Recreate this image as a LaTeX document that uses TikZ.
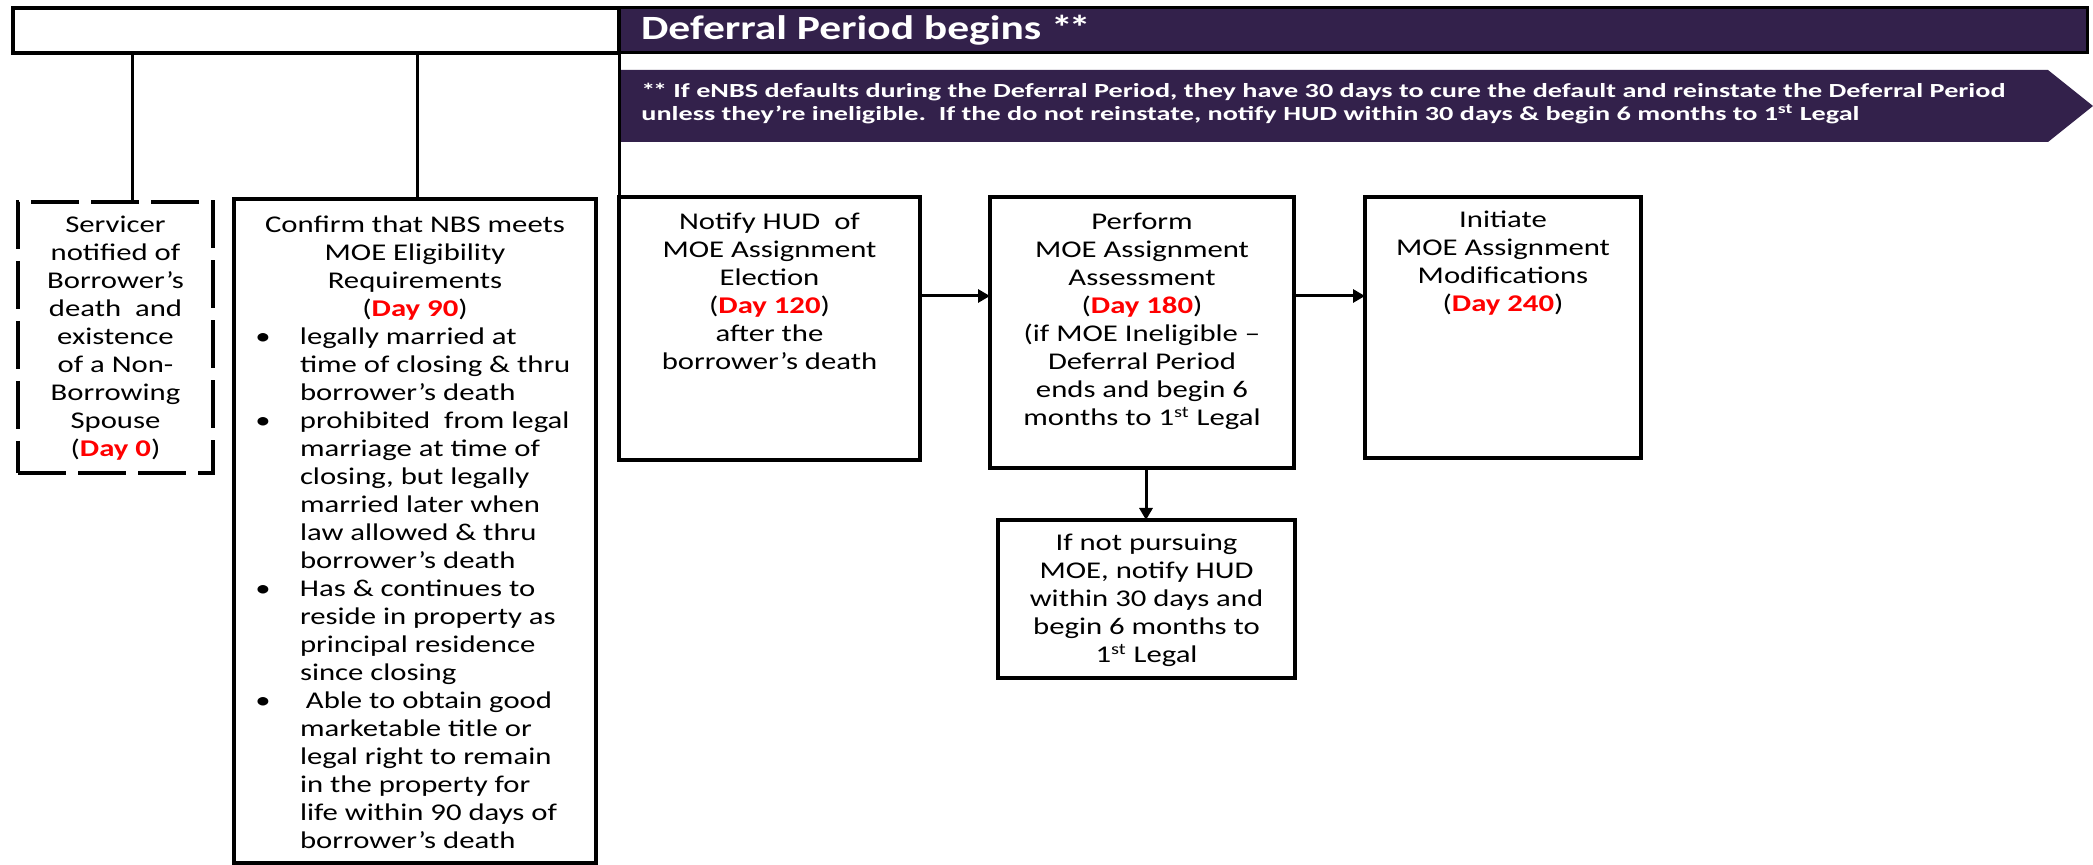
\documentclass[tikz,border=0pt]{standalone}
\usepackage{fontspec}
\setmainfont{Carlito}[FakeStretch=1.28]
\newfontfamily\bannerfont{Carlito}[FakeStretch=1.41]
\usetikzlibrary{arrows.meta,calc}
\definecolor{hdrpurple}{RGB}{51,33,75}
\definecolor{dayred}{RGB}{255,0,0}
\newcommand\dayt[1]{(\textcolor{dayred}{\bfseries #1})}
\newcommand\tb[4]{\parbox[c][#2pt][t]{#1pt}{\fontsize{12}{14}\selectfont\centering\vspace*{#3pt}\strut #4}}
\newcommand\bl[1]{\par\noindent\makebox[33pt][l]{\hspace{10.7pt}\textbullet}#1}
\newcommand\cl[1]{\par\noindent\hspace*{33pt}#1}
\begin{document}
\begin{tikzpicture}[x=0.5pt,y=-0.5pt,
  box/.style={draw=black,line width=1.6pt,inner sep=0pt,outer sep=0pt,anchor=north west,fill=white},
  dbox/.style={box,dash pattern=on 24pt off 6pt,line width=2pt},
  conn/.style={line width=1.5pt},
  arr/.style={conn,-{Triangle[length=6pt,width=6.5pt]}}]
\useasboundingbox (0,0) rectangle (2093,865);
% top bar
\node[box,line width=2pt] (top) at (13,8) {\parbox[c][22.5pt]{303pt}{\mbox{}}};
\node[box,fill=hdrpurple,line width=1.5pt] (hdr) at (619,8)
  {\parbox[c][22.5pt][c]{734pt}{\hspace*{11pt}\fontsize{17}{19}\selectfont\bfseries\color{white}Deferral Period begins *\kern-2pt*}};
% banner
\fill[hdrpurple] (619,70) -- (2048,70) -- (2093,106) -- (2048,142) -- (619,142) -- cycle;
\node[anchor=west,align=left,text=white,inner sep=0pt,font=\bannerfont\fontsize{10}{11.5}\selectfont\bfseries] (note) at (641,104)
  {*\kern-1.2pt* If eNBS defaults during the Deferral Period, they have 30 days to cure the default and reinstate the Deferral Period\\unless they’re ineligible.\ \ If the do not reinstate, notify HUD within 30 days \& begin 6 months to 1\textsuperscript{st} Legal};
% boxes
\node[dbox] (serv) at (18,202) {\tb{97.5}{135.5}{5.6}{Servicer\\notified of\\Borrower’s\\death~ and\\existence\\of a Non-\\Borrowing\\Spouse\\\dayt{Day 0}}};
\node[box] (conf) at (234,199) {\parbox[c][332pt][t]{181pt}{\fontsize{12}{14}\selectfont\centering\vspace*{7.1pt}\strut Confirm that NBS meets\\MOE Eligibility\\Requirements\\\dayt{Day 90}\par\raggedright
  \bl{legally married at}\cl{time of closing \& thru}\cl{borrower’s death}%
  \bl{prohibited~ from legal}\cl{marriage at time of}\cl{closing, but legally}\cl{married later when}\cl{law allowed \& thru}\cl{borrower’s death}%
  \bl{Has \& continues to}\cl{reside in property as}\cl{principal residence}\cl{since closing}%
  \bl{\hspace{3pt}Able to obtain good}\cl{marketable title or}\cl{legal right to remain}\cl{in the property for}\cl{life within 90 days of}\cl{borrower’s death}}};
\node[box] (notify) at (619,197) {\tb{150.5}{131.5}{6.6}{Notify HUD~ of\\MOE Assignment\\Election\\\dayt{Day 120}\\after the\\borrower’s death}};
\node[box] (perform) at (990,197) {\tb{152}{135.5}{6.6}{Perform\\MOE Assignment\\Assessment\\\dayt{Day 180}\\(if MOE Ineligible –\\Deferral Period\\ends and begin 6\\months to 1\textsuperscript{st} Legal}};
\node[box] (init) at (1365,197) {\tb{138}{130.5}{5.6}{Initiate\\MOE Assignment\\Modifications\\\dayt{Day 240}}};
\node[box] (ifnot) at (998,520) {\tb{148.5}{79}{5.6}{If not pursuing\\MOE, notify HUD\\within 30 days and\\begin 6 months to\\1\textsuperscript{st} Legal}};
% connectors
\coordinate (ay) at (0,296);
\coordinate (ax) at (1146,0);
\coordinate (v1) at (132,0);
\coordinate (v2) at (417,0);
\draw[arr] (notify.east |- ay) -- (perform.west |- ay);
\draw[arr] (perform.east |- ay) -- (init.west |- ay);
\draw[arr] (perform.south -| ax) -- (ifnot.north -| ax);
\draw[conn] (top.south -| v1) -- (serv.north -| v1);
\draw[conn] (top.south -| v2) -- (conf.north -| v2);
\draw[conn] (hdr.south west) -- (notify.north west);
\end{tikzpicture}
\end{document}
